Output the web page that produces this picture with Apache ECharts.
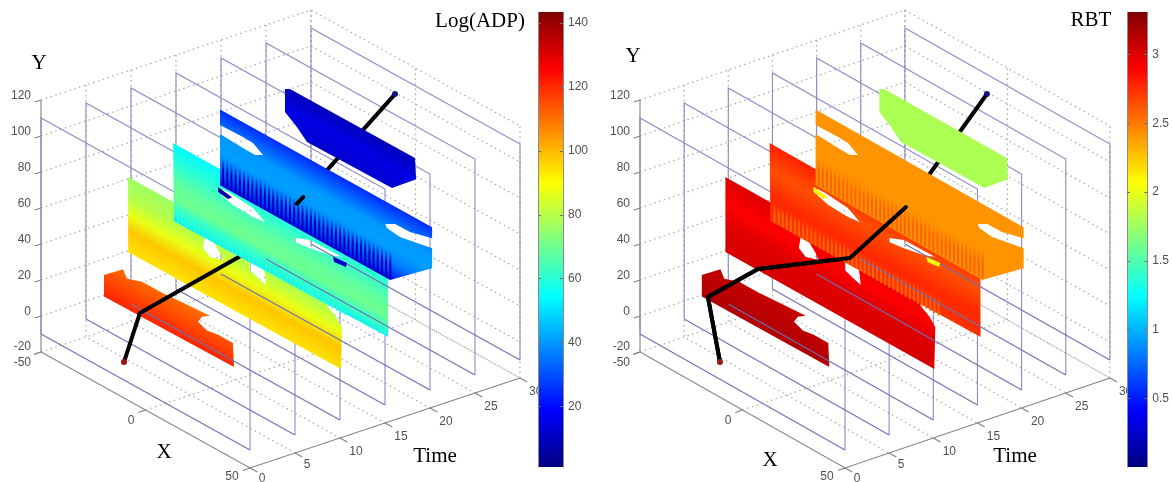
<!DOCTYPE html>
<html>
<head>
<meta charset="utf-8">
<style>html,body{margin:0;padding:0;background:#fff;overflow:hidden}#chart{width:1172px;height:482px;filter:blur(0.45px)}</style>
<script src="https://cdn.jsdelivr.net/npm/echarts@6/dist/echarts.min.js"></script>
</head>
<body>
<div id="chart"></div>
<script>
// ---- axis tick values
const yTicks = [-20, 0, 20, 40, 60, 80, 100, 120];
const xTicks = [-50, 0, 50];
const timeTicks = [0, 5, 10, 15, 20, 25, 30];
const adpTicks = [20, 40, 60, 80, 100, 120, 140];
const rbtTicks = [0.5, 1, 1.5, 2, 2.5, 3];
const adpRange = [1, 143.5];
const rbtRange = [0, 3.31];

// ---- slice outlines, [X, Y], each slice lying at one Time
const sliceTimes = [5, 10, 15, 20, 25];
const slice1Outline = [[-41.4,20],[-32.3,29],[-30.4,25],[-23.2,28],[-13.6,28],[-4,29],[9.3,30],[5.5,27],[3.6,23],[7.9,21],[13.2,22],[20.3,22],[20.8,9],[-41.4,8]];
const slice2Outline = [[-51.4,59.6],[43.8,59.9],[43.8,49.3],[47.1,47],[49,45],[51,42.2],[50.5,18.7],[-51.4,18]];
const slice2HoleA = [[-14.6,50.6],[-11.2,50.6],[-7.4,45.8],[-6,42.8],[-12.2,40.4],[-15.6,43.3]];
const slice2HoleB = [[6.9,51],[13.2,52.4],[14.1,47.4],[14.6,42.2],[10.8,43.6],[6.9,45.6]];
const slice3Outline = [[-51.4,70.2],[51.5,70],[51.5,28.8],[-51,27]];
const slice3HoleA = [[-29.9,59.6],[-24.2,60],[-13.2,58.7],[-7.4,54.7],[-13.2,53.7],[-22.7,54.2],[-29.9,56.8]];
const slice3HoleB = [[6.9,55],[14.1,58.6],[29.4,58.9],[23.7,56.4],[14.1,54],[6.9,52.8]];
const slice4Outline = [[-50.5,81],[51,81.1],[51,75],[40.4,71.6],[33.3,71.4],[28.5,68.3],[29.4,66.7],[35.6,65.7],[43.8,67.7],[51,69.4],[51,58.3],[30.9,38.8],[-50.5,39],[-50.5,67.4],[-39.5,66.8],[-33.7,66.6],[-29.9,69],[-34.7,72.7],[-39.5,72.9],[-50.5,72.4]];
const slice4SpotA = [[3.6,34],[10.3,34.9],[9.8,32.4],[4.1,31.5]];
const slice4SpotB = [[-51.4,37.4],[-44.7,36],[-46.7,33.8],[-51.4,34.6]];
const slice5Outline = [[-40.9,90.3],[-38.5,91.8],[21.3,92],[21.8,80.6],[10.3,68.3],[-30.4,67.7],[-35.2,72.9],[-40.9,77.5]];
const combX = [-49,-47,-45,-43,-41,-39,-37,-35,-33,-31,-29,-27,-25,-23,-21,-19,-17,-15,-13,-11,-9,-7,-5,-3,-1,1,3,5,7,9,11,13,15,17,19,21,23,25,27,29,31];

// ---- colour values up the slices, [Y, value]
const adpSlice1 = [[8,121],[30,110]];
const adpSlice2 = [[18,94],[30,98],[39,87],[48,80],[61,76]];
const adpSlice3 = [[27,52],[33,62],[40,70],[48,68],[60,60],[70,54]];
const adpSlice4 = [[39,14],[42,26],[50,37],[58,41],[66,40],[72,34],[81,25]];
const adpSlice5 = [[68,12],[80,15],[92,9]];
const rbtSlice1 = [[8,3.15],[30,3.08]];
const rbtSlice2 = [[18,3.03],[33,3.0],[45,2.9],[62,3.02]];
const rbtSlice3 = [[28,2.73],[40,2.77],[55,2.64],[70,2.79]];
const rbtSlice4 = [[39,2.42],[81,2.42]];
const rbtSlice5 = [[68,1.8],[92,1.8]];
const adpSpots = [12, 6];
const rbtSpots = [2.05, 2.1];
const adpCombs = [60, 9];
const rbtCombs = [2.55, 2.58];

// ---- centroid path, [X, Time, Y]
const adpPath = [[-10.3,0,0],[-24.2,5,10],[-9.8,15,40.3],[-9.8,30,99.2]];
const adpPathFront = [[-9.8,19.1,56.5],[-9.8,19.8,59]];
const rbtPath = [[-11,0,-0.4],[-38.4,5,9.7],[-35.5,10,18.8],[-12.2,15,31.6],[-6.4,20,55.3],[-10,30,99.1]];
const rbtPathFront = [[-11,0,-0.4],[-38.4,5,9.7],[-35.5,10,18.8],[-12.2,15,31.6],[-6.4,20,55.3]];

// ---- jet colour map
function jet(t) {
  t = Math.max(0, Math.min(1, t));
  const f = c => Math.round(255 * Math.max(0, Math.min(1, c)));
  return 'rgb(' + f(1.5 - Math.abs(4 * t - 3)) + ',' + f(1.5 - Math.abs(4 * t - 2)) + ',' + f(1.5 - Math.abs(4 * t - 1)) + ')';
}
const SANS = '"Liberation Sans", Arial, sans-serif';
const SERIF = '"Liberation Serif", "Times New Roman", serif';

const panels = [
  { x0: 41, ax: 2.09, at: 9, bx: 1.16, range: adpRange,
    stops: [adpSlice1, adpSlice2, adpSlice3, adpSlice4, adpSlice5], spots: adpSpots, combs: adpCombs,
    path: adpPath, front: adpPathFront },
  { x0: 640, ax: 2.05, at: 8.83, bx: 1.16, range: rbtRange,
    stops: [rbtSlice1, rbtSlice2, rbtSlice3, rbtSlice4, rbtSlice5], spots: rbtSpots, combs: rbtCombs,
    path: rbtPath, front: rbtPathFront }
];
const Y0 = 352, BT = 3, DY = 1.8;
function project(p, X, T, Y) {
  return [p.x0 + (X + 50) * p.ax + T * p.at, Y0 + (X + 50) * p.bx - T * BT - (Y + 20) * DY];
}

let zCounter = 2;
const series = [];
function draw(render) {
  series.push({ type: 'custom', coordinateSystem: 'cartesian2d', xAxisIndex: 0, yAxisIndex: 0,
    silent: true, clip: false, animation: false, z: zCounter++, data: [[0, 0]],
    renderItem: (params, api) => ({ type: 'group', children: render(api) }) });
}
function line(api, p, pts, style) {
  return { type: 'polyline', shape: { points: pts.map(q => api.coord(project(p, q[0], q[1], q[2]))) },
    style: Object.assign({ fill: 'none' }, style) };
}
function signedArea(pts) {
  let s = 0;
  pts.forEach((q, i) => { const r = pts[(i + 1) % pts.length]; s += q[0] * r[1] - r[0] * q[1]; });
  return s;
}
function drawSlice(p, T, outline, holes, stops) {
  draw(api => {
    const outer = outline.map(q => api.coord(project(p, q[0], T, q[1])));
    const sign = signedArea(outer);
    let d = '';
    [outer].concat(holes.map(h => {
      const pts = h.map(q => api.coord(project(p, q[0], T, q[1])));
      return signedArea(pts) * sign > 0 ? pts.reverse() : pts;
    })).forEach(pts => { d += 'M' + pts.map(q => q[0].toFixed(1) + ' ' + q[1].toFixed(1)).join('L') + 'Z'; });
    const ymin = stops[0][0], ymax = stops[stops.length - 1][0];
    const P0 = api.coord(project(p, 0, T, ymin));
    const P1 = api.coord(project(p, 0, T, ymax));
    const len = Math.hypot(p.ax, p.bx);
    const n = [-p.bx / len, p.ax / len];
    const dot = (P1[0] - P0[0]) * n[0] + (P1[1] - P0[1]) * n[1];
    const rng = p.range;
    const fill = { type: 'linear', global: true, x: P0[0], y: P0[1], x2: P0[0] + n[0] * dot, y2: P0[1] + n[1] * dot,
      colorStops: stops.map(s => ({ offset: (s[0] - ymin) / (ymax - ymin), color: jet((s[1] - rng[0]) / (rng[1] - rng[0])) })) };
    return [{ type: 'path', shape: { pathData: d }, style: { fill: fill } }];
  });
}
function drawComb(p, T, ys, value, width) {
  draw(api => combX.map(X => {
    const a = api.coord(project(p, X, T, ys[0])), b = api.coord(project(p, X, T, ys[1]));
    const c = jet((value - p.range[0]) / (p.range[1] - p.range[0]));
    return { type: 'line', shape: { x1: a[0], y1: a[1], x2: b[0], y2: b[1] },
      style: { lineWidth: width, stroke: { type: 'linear', global: true, x: a[0], y: a[1], x2: b[0], y2: b[1],
        colorStops: [{ offset: 0, color: c }, { offset: 0.55, color: c }, { offset: 1, color: c.replace('rgb', 'rgba').replace(')', ',0)') }] } } };
  }));
}
function drawPlaneFrame(p, T) {
  draw(api => [line(api, p, [[-50, T, -10], [-50, T, 110], [50, T, 110], [50, T, -10]], { stroke: '#8a8ac6', lineWidth: 1.1 })]);
}
function drawPlaneBase(p, T) {
  draw(api => [line(api, p, [[-50, T, -10], [50, T, -10]], { stroke: '#6f6fb4', lineWidth: 1.1 })]);
}
function drawPath(p, pts) {
  draw(api => [line(api, p, pts, { stroke: '#000', lineWidth: 4, lineCap: 'round', lineJoin: 'round' })]);
}

panels.forEach(p => {
  // dotted back walls and floor
  const dot = { stroke: '#a8a8a8', lineWidth: 1.2, lineDash: [1.5, 3.5] };
  draw(api => {
    const out = [];
    yTicks.forEach(Y => out.push(line(api, p, [[-50, 0, Y], [-50, 30, Y], [50, 30, Y]], dot)));
    timeTicks.slice(1).forEach(T => {
      out.push(line(api, p, [[-50, T, 120], [-50, T, -20], [50, T, -20]], dot));
    });
    xTicks.forEach(X => out.push(line(api, p, [[X, 30, -20], [X, 30, 120]], dot)));
    out.push(line(api, p, [[0, 0, -20], [0, 30, -20]], dot));
    return out;
  });
  // solid axes, tick marks, tick labels
  draw(api => {
    const st = { stroke: '#808080', lineWidth: 1.1 };
    const out = [
      line(api, p, [[-50, 0, 120], [-50, 0, -20], [50, 0, -20], [50, 30, -20]], st)
    ];
    const lab = (pt, dx, dy, text, align) => {
      const c = api.coord(project(p, pt[0], pt[1], pt[2]));
      return { type: 'text', x: c[0] + dx, y: c[1] + dy,
        style: { text: String(text), fill: '#505050', fontSize: 12, fontFamily: SANS, align: align || 'center', verticalAlign: 'middle' } };
    };
    yTicks.forEach(Y => {
      out.push(line(api, p, [[-50, 0, Y], [-50, -0.7, Y]], st));
      out.push(lab([-50, 0, Y], -10, Y === -20 ? -5 : -4, Y, 'right'));
    });
    xTicks.forEach(X => {
      out.push(line(api, p, [[X, 0, -20], [X, -0.8, -20]], st));
      const off = X === -50 ? [-10, 11, 'right'] : X === 0 ? [-14.5, 11, 'center'] : [-18, 9, 'center'];
      out.push(lab([X, 0, -20], off[0], off[1], X, off[2]));
    });
    timeTicks.forEach(T => {
      out.push(line(api, p, [[50, T, -20], [53.5, T, -20]], st));
      if (T === 30) out.push(lab([50, T, -20], 9, 14, T, 'left'));
      else out.push(lab([50, T, -20], T === 0 ? 12 : T === 5 ? 12 : 16, T === 0 ? 11 : T === 5 ? 12 : 13.5, T));
    });
    return out;
  });
  // plane frames first, every slice covers them; their base lines come between slices
  timeTicks.forEach(T => drawPlaneFrame(p, T));
  drawSlice(p, sliceTimes[0], slice1Outline, [], p.stops[0]);
  [0, 5, 10].forEach(T => drawPlaneBase(p, T));
  drawSlice(p, sliceTimes[1], slice2Outline, [slice2HoleA, slice2HoleB], p.stops[1]);
  [15, 20].forEach(T => drawPlaneBase(p, T));
  drawPath(p, p.path);
  drawSlice(p, sliceTimes[2], slice3Outline, [slice3HoleA, slice3HoleB], p.stops[2]);
  drawComb(p, sliceTimes[2], [27.5, 38], p.combs[0], 1.8);
  [25, 30].forEach(T => drawPlaneBase(p, T));
  drawSlice(p, sliceTimes[3], slice4Outline, [], p.stops[3]);
  drawComb(p, sliceTimes[3], [39.5, 55], p.combs[1], 2);
  const sp = p.spots;
  drawSlice(p, sliceTimes[3], slice4SpotA, [], [[30, sp[0]], [36, sp[0]]]);
  drawSlice(p, sliceTimes[3], slice4SpotB, [], [[30, sp[1]], [38, sp[1]]]);
  drawSlice(p, sliceTimes[4], slice5Outline, [], p.stops[4]);
  drawPath(p, p.front);
  // end dots
  draw(api => {
    const a = p.path[0], b = p.path[p.path.length - 1];
    const ca = api.coord(project(p, a[0], a[1], a[2])), cb = api.coord(project(p, b[0], b[1], b[2]));
    return [
      { type: 'circle', shape: { cx: ca[0], cy: ca[1], r: 3 }, style: { fill: '#a01414' } },
      { type: 'circle', shape: { cx: cb[0], cy: cb[1], r: 3 }, style: { fill: '#12127e' } }
    ];
  });
});

// colour bars
const jetKnots = [0, 0.125, 0.375, 0.625, 0.875, 1];
function colorbarSeries(gridIdx, yIdx, range) {
  return { type: 'custom', coordinateSystem: 'cartesian2d', xAxisIndex: gridIdx, yAxisIndex: yIdx,
    silent: true, animation: false, z: 500, clip: false, data: [[0, range[0]]],
    renderItem: (params, api) => {
      const lo = api.coord([0, range[0]]), hi = api.coord([1, range[1]]);
      return { type: 'rect', shape: { x: lo[0], y: hi[1], width: hi[0] - lo[0], height: lo[1] - hi[1] },
        style: { fill: { type: 'linear', x: 0, y: 1, x2: 0, y2: 0,
          colorStops: jetKnots.map(t => ({ offset: t, color: jet(t) })) } } };
    } };
}
series.push(colorbarSeries(1, 1, adpRange));
series.push(colorbarSeries(2, 3, rbtRange));

function cbAxis(gridIdx, range, ticks, position, labels, fmt) {
  return { type: 'value', gridIndex: gridIdx, min: range[0], max: range[1], position: position, z: 600,
    splitLine: { show: false },
    axisLine: { show: true, onZero: false, lineStyle: { color: '#8c8c8c', width: 1 } },
    axisTick: { show: true, inside: true, length: 3, customValues: ticks, lineStyle: { color: '#707070' } },
    axisLabel: labels ? { show: true, customValues: ticks, color: '#505050', fontSize: 12, fontFamily: SANS, margin: 5, formatter: fmt } : { show: false } };
}
const hiddenX = i => ({ type: 'value', gridIndex: i, min: 0, max: 1, show: false });
const text = (s, x, y) => ({ type: 'text', x: x, y: y, z: 700, silent: true,
  style: { text: s, fill: '#000', fontSize: 21, fontFamily: SERIF, textAlign: 'center', textVerticalAlign: 'middle' } });

const chart = echarts.init(document.getElementById('chart'), null, { renderer: 'canvas' });
chart.setOption({
  animation: false,
  backgroundColor: '#fff',
  grid: [
    { left: 0, top: 0, width: 1172, height: 482 },
    { left: 538, top: 12, width: 25, height: 455 },
    { left: 1127, top: 12, width: 25, height: 455 }
  ],
  xAxis: [
    { type: 'value', gridIndex: 0, min: 0, max: 1172, show: false },
    hiddenX(1), hiddenX(2)
  ],
  yAxis: [
    { type: 'value', gridIndex: 0, min: 0, max: 482, inverse: true, show: false },
    cbAxis(1, adpRange, adpTicks, 'right', true, v => String(v)),
    cbAxis(1, adpRange, adpTicks, 'left', false),
    cbAxis(2, rbtRange, rbtTicks, 'right', true, v => String(v)),
    cbAxis(2, rbtRange, rbtTicks, 'left', false)
  ],
  graphic: [
    text('Y', 39, 63), text('X', 164, 452), text('Time', 435, 456), text('Log(ADP)', 480, 21),
    text('Y', 633, 56), text('X', 770, 460), text('Time', 1015, 456), text('RBT', 1091, 20)
  ],
  series: series
});
</script>
</body>
</html>
